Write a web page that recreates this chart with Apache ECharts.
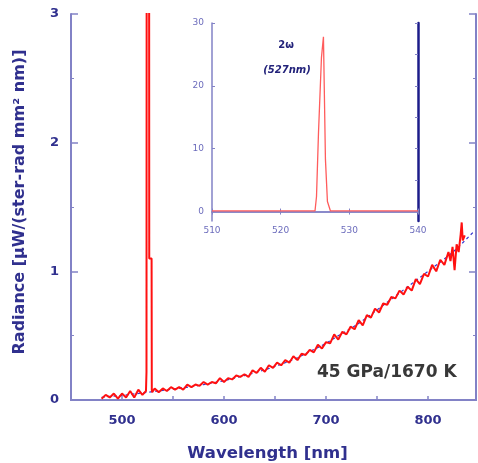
<!DOCTYPE html>
<html>
<head>
<meta charset="utf-8">
<script src="https://cdn.jsdelivr.net/npm/echarts@6/dist/echarts.min.js"></script>
<style>html,body{margin:0;padding:0;background:#fff}#c{width:478px;height:463px}</style>
</head>
<body>
<div id="c"></div>
<script>
// Main spectrum (measured, red)
const specWl = [480,484,488,492,496,500,504,508,512,516,520,523.5,524,525.2,525.4,526.6,526.7,529.0,529.2,529.6,
532,536,540,544,548,552,556,560,564,568,572,576,580,584,588,592,596,600,604,608,612,616,620,624,628,632,636,640,644,648,652,656,660,664,668,672,676,680,684,688,692,696,700,704,708,712,716,720,724,728,732,736,740,744,748,752,756,760,764,768,772,776,780,784,788,792,796,800,804,808,812,816,820,822,824,826,828,830,832,833,834,836];
const specVal = [0.01,0.04,0.02,0.05,0.01,0.05,0.02,0.07,0.02,0.08,0.04,0.07,0.22,0.22,28,28,1.1,1.1,0.08,0.06,
0.09,0.06,0.09,0.07,0.10,0.08,0.10,0.08,0.12,0.10,0.12,0.11,0.14,0.12,0.14,0.13,0.17,0.14,0.17,0.16,0.19,0.18,0.20,0.18,0.23,0.21,0.25,0.22,0.27,0.25,0.29,0.27,0.31,0.29,0.34,0.31,0.36,0.35,0.39,0.37,0.43,0.40,0.45,0.44,0.51,0.47,0.53,0.51,0.57,0.55,0.62,0.58,0.66,0.64,0.71,0.68,0.75,0.74,0.80,0.79,0.85,0.82,0.88,0.85,0.94,0.90,0.98,0.96,1.05,1.00,1.09,1.05,1.15,1.08,1.19,1.01,1.21,1.15,1.29,1.38,1.24,1.28];
// Fit (blue dashed)
const fitWl = [480,490,500,510,520,530,540,550,560,570,580,590,600,610,620,630,640,650,660,670,680,690,700,710,720,730,740,750,760,770,780,790,800,810,820,830,840,845];
const fitVal = [0.02,0.03,0.035,0.045,0.055,0.065,0.075,0.085,0.095,0.105,0.12,0.135,0.15,0.17,0.19,0.21,0.235,0.26,0.29,0.32,0.36,0.40,0.44,0.49,0.535,0.585,0.64,0.70,0.76,0.82,0.88,0.94,1.00,1.06,1.12,1.19,1.27,1.31];
// Inset: 2ω peak
const insetWl = [510,525.0,525.22,525.51,525.94,526.23,526.52,526.81,527.25,540];
const insetVal = [0.1,0.1,2.4,12.6,24.5,27.8,8.3,1.6,0.1,0.1];
// Tick labels
const mainXLabels = [500,600,700,800];
const mainXTicks = [500,550,600,650,700,750,800];
const insetYLabels = [0,10,20,30];

const zip = (a,b)=>a.map((v,i)=>[v,b[i]]);
const axCol = '#8282c6';
const lblCol = '#30308e';
const font = 'DejaVu Sans';

const chart = echarts.init(document.getElementById('c'), null, {renderer:'canvas'});
chart.setOption({
  backgroundColor:'#fff',
  animation:false,
  grid:[
    {left:71, top:14, width:405, height:386, outerBoundsMode:'none', containLabel:false},
    {left:212, top:23, width:206, height:198, backgroundColor:'#fff', show:true, borderWidth:0, outerBoundsMode:'none', containLabel:false}
  ],
  xAxis:[
    {gridIndex:0, type:'value', min:450, max:847, position:'bottom',
     name:'Wavelength [nm]', nameLocation:'middle', nameGap:45,
     nameTextStyle:{fontFamily:font, fontWeight:'bold', fontSize:16.5, color:lblCol, padding:[0,12,0,0]},
     axisLine:{lineStyle:{color:axCol, width:2}},
     axisTick:{inside:true, length:4, lineStyle:{color:axCol, width:1.5}, customValues:mainXTicks},
     axisLabel:{customValues:mainXLabels, margin:14, fontFamily:font, fontWeight:'bold', fontSize:13, color:lblCol},
     splitLine:{show:false}},
    {gridIndex:0, type:'value', min:450, max:847, position:'top',
     axisLine:{lineStyle:{color:axCol, width:2}},
     axisTick:{show:false}, axisLabel:{show:false}, splitLine:{show:false}},
    {gridIndex:1, type:'value', min:510, max:540, interval:10, position:'bottom',
     axisLine:{lineStyle:{color:axCol, width:1.5}},
     axisTick:{inside:true, length:3, lineStyle:{color:axCol}},
     axisLabel:{margin:5, fontFamily:font, fontSize:9, color:'#6c6cbc'},
     splitLine:{show:false}},
    {gridIndex:1, type:'value', min:510, max:540, interval:10, position:'top',
     axisLine:{lineStyle:{color:axCol, width:1.5}},
     axisTick:{inside:true, length:3, lineStyle:{color:axCol}},
     axisLabel:{show:false}, splitLine:{show:false}}
  ],
  yAxis:[
    {gridIndex:0, type:'value', min:0, max:3, interval:1, position:'left',
     name:'Radiance [µW/(ster-rad mm² nm)]', nameLocation:'middle', nameGap:43,
     nameTextStyle:{fontFamily:font, fontWeight:'bold', fontSize:16, color:lblCol, padding:[0,0,0,10]},
     axisLine:{show:true, lineStyle:{color:axCol, width:2}},
     axisTick:{inside:true, length:7, lineStyle:{color:axCol, width:1.5}},
     minorTick:{show:true, splitNumber:2, length:3, lineStyle:{color:axCol}},
     axisLabel:{margin:12, fontFamily:font, fontWeight:'bold', fontSize:13, color:lblCol},
     splitLine:{show:false}},
    {gridIndex:0, type:'value', min:0, max:3, interval:1, position:'right',
     axisLine:{show:true, lineStyle:{color:axCol, width:2}},
     axisTick:{inside:true, length:7, lineStyle:{color:axCol, width:1.5}},
     minorTick:{show:true, splitNumber:2, length:3, lineStyle:{color:axCol}},
     axisLabel:{show:false}, splitLine:{show:false}},
    {gridIndex:1, type:'value', min:-1.5, max:30, position:'left',
     axisLine:{show:true, lineStyle:{color:axCol, width:1.5}},
     axisTick:{inside:true, length:3, lineStyle:{color:axCol}, customValues:insetYLabels},
     axisLabel:{customValues:insetYLabels, margin:8, padding:[8,0,0,0], fontFamily:font, fontSize:9, color:'#6c6cbc'},
     splitLine:{show:false}},
    {gridIndex:1, type:'value', min:-1.5, max:30, position:'right',
     axisLine:{show:true, lineStyle:{color:'#1c1c8a', width:2.5}},
     axisTick:{inside:true, length:3, lineStyle:{color:axCol}, customValues:[5,10,15,20,25,30]},
     axisLabel:{show:false}, splitLine:{show:false}}
  ],
  series:[
    {type:'line', xAxisIndex:0, yAxisIndex:0, data:zip(fitWl,fitVal), showSymbol:false, z:2,
     lineStyle:{color:'#3434d0', width:1.2, type:[3,3]}},
    {type:'line', xAxisIndex:0, yAxisIndex:0, data:zip(specWl,specVal), showSymbol:false, z:3,
     lineStyle:{color:'#ff1010', width:2}},
    {type:'line', xAxisIndex:2, yAxisIndex:2, data:zip(insetWl,insetVal), showSymbol:false, z:3,
     lineStyle:{color:'#ff5c5c', width:1.3}}
  ],
  graphic:[
    {type:'text', left:317, top:364, style:{text:'45 GPa/1670 K', fontFamily:font, fontWeight:'bold', fontSize:17, fill:'#383838'}},
    {type:'text', x:286, y:45, style:{text:'2ω', align:'center', verticalAlign:'middle', fontFamily:font, fontWeight:'bold', fontSize:10, fill:'#22227a'}},
    {type:'text', x:287, y:70, style:{text:'(527nm)', align:'center', verticalAlign:'middle', fontFamily:font, fontWeight:'bold', fontStyle:'italic', fontSize:10, fill:'#22227a'}}
  ]
});
</script>
</body>
</html>
